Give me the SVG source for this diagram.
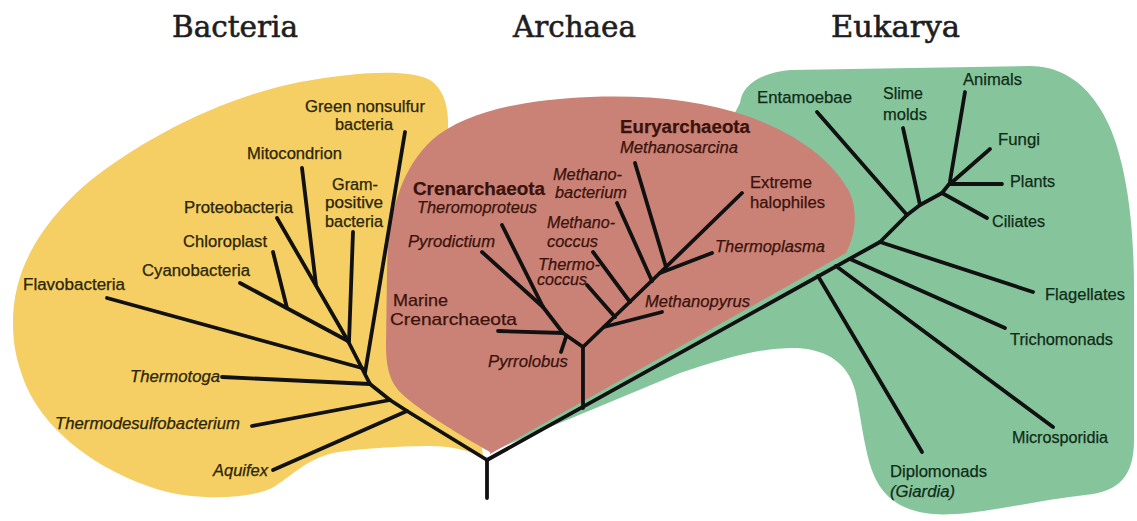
<svg xmlns="http://www.w3.org/2000/svg" width="1137" height="521" viewBox="0 0 1137 521">
<style>
.t{font-family:"DejaVu Serif","Liberation Serif",serif;font-size:30px;fill:#1e1e1e;stroke:#1e1e1e;stroke-width:0.6}
.l{font-family:"Liberation Sans",Arial,sans-serif;font-size:16px;stroke-width:0.25}
.i{font-style:italic}
.b{font-weight:bold;font-size:18px}
.m{font-size:16.5px}
.bac{fill:#2a2408;stroke:#2a2408}
.arc{fill:#3a120c;stroke:#3a120c}
.euk{fill:#0f2c18;stroke:#0f2c18}
.ln{fill:none;stroke:#111;stroke-width:3.8;stroke-linecap:round;stroke-linejoin:round}
</style>
<rect width="1137" height="521" fill="#ffffff"/>
<g id="regions">
<path id="bacteria-region" fill="#F5CF63" d="M 13,322 C 13,270 40,225 85,185 C 140,140 220,98 300,82 C 360,71 410,69 430,80 C 448,92 450,118 447,140 L 480,200 L 481,440 L 483,456 C 465,450 450,446 430,446 C 400,446 355,449 333,453 C 305,460 292,476 272,488 C 245,500 195,500 160,490 C 100,472 40,430 22,375 C 15,355 13,340 13,322 Z"/>
<path id="eukarya-region" fill="#86C59C" d="M 740,103 C 742,85 760,73 790,70 L 1030,66 C 1080,66 1110,110 1122,165 C 1130,200 1134,240 1134,290 L 1134,440 C 1134,475 1120,492 1085,495 C 1040,500 990,512 955,514 C 915,517 885,505 873,473 C 864,450 860,410 855,390 C 848,365 830,350 797,348 C 760,347 720,360 680,373 L 490,452 L 700,180 Z"/>
<path id="archaea-region" fill="#CB8276" d="M 490,452 C 455,432 415,408 398,390 C 388,378 386,362 386,345 L 387,270 C 388,215 400,170 432,140 C 465,112 520,100 590,97 C 650,95 700,100 750,117 C 800,135 835,163 850,193 C 857,210 857,232 846,253 L 490,454 Z"/>
</g>
<g id="titles">
<text class="t" x="172" y="37" textLength="126" lengthAdjust="spacingAndGlyphs">Bacteria</text>
<text class="t" x="513" y="37" textLength="123" lengthAdjust="spacingAndGlyphs">Archaea</text>
<text class="t" x="831" y="37" textLength="129" lengthAdjust="spacingAndGlyphs">Eukarya</text>
</g>
<g id="connectors" class="ln">
<path d="M 487,498 L 487,460"/>
<path d="M 487,460 L 407,411 L 390,400 L 370,384 L 348,341"/>
<path d="M 407,411 L 273,470"/>
<path d="M 390,400 L 252,426"/>
<path d="M 370,384 L 222,377"/>
<path d="M 362,368 L 107,298"/>
<path d="M 365,373 L 405,132"/>
<path d="M 349,342 L 353,232"/>
<path d="M 348,341 L 277,218"/>
<path d="M 316,285 L 302,168"/>
<path d="M 348,341 L 240,283"/>
<path d="M 287,308 L 273,252"/>
<path d="M 487,460 L 880,242 L 907,215 L 920,205 L 942,193 L 950,183"/>
<path d="M 583,408 L 583,347 L 666,267"/>
<path d="M 583,347 L 563,333 L 543,307"/>
<path d="M 543,307 L 482,252"/>
<path d="M 543,307 L 502,225"/>
<path d="M 498,331 L 563,333"/>
<path d="M 566,337 L 561,352"/>
<path d="M 604,327 L 662,312"/>
<path d="M 615,317 L 587,285"/>
<path d="M 630,302 L 593,252"/>
<path d="M 652,281 L 617,203"/>
<path d="M 666,267 L 635,163"/>
<path d="M 666,267 L 742,193"/>
<path d="M 660,273 L 712,253"/>
<path d="M 818,276 L 922,452"/>
<path d="M 836,266 L 1053,427"/>
<path d="M 850,259 L 1005,328"/>
<path d="M 880,242 L 1033,292"/>
<path d="M 907,215 L 817,112"/>
<path d="M 920,205 L 903,128"/>
<path d="M 942,193 L 987,218"/>
<path d="M 950,184 L 1002,184"/>
<path d="M 950,184 L 990,149"/>
<path d="M 950,181 L 965,92"/>
</g>
<g id="bacteria-labels" class="l bac">
<g id="green-nonsulfur"><text x="305" y="112" textLength="120" lengthAdjust="spacingAndGlyphs">Green nonsulfur</text><text x="335" y="130" textLength="58" lengthAdjust="spacingAndGlyphs">bacteria</text></g>
<g id="mitocondrion"><text x="247" y="159" textLength="95" lengthAdjust="spacingAndGlyphs">Mitocondrion</text></g>
<g id="gram-positive"><text x="332" y="190" textLength="46" lengthAdjust="spacingAndGlyphs">Gram-</text><text x="325" y="208" textLength="58" lengthAdjust="spacingAndGlyphs">positive</text><text x="325" y="227" textLength="58" lengthAdjust="spacingAndGlyphs">bacteria</text></g>
<g id="proteobacteria"><text x="184" y="213" textLength="109" lengthAdjust="spacingAndGlyphs">Proteobacteria</text></g>
<g id="chloroplast"><text x="183" y="247" textLength="84" lengthAdjust="spacingAndGlyphs">Chloroplast</text></g>
<g id="cyanobacteria"><text x="142" y="276" textLength="108" lengthAdjust="spacingAndGlyphs">Cyanobacteria</text></g>
<g id="flavobacteria"><text x="23" y="290" textLength="102" lengthAdjust="spacingAndGlyphs">Flavobacteria</text></g>
<g id="thermotoga"><text class="i" x="130" y="382" textLength="90" lengthAdjust="spacingAndGlyphs">Thermotoga</text></g>
<g id="thermodesulfobacterium"><text class="i" x="55" y="429" textLength="185" lengthAdjust="spacingAndGlyphs">Thermodesulfobacterium</text></g>
<g id="aquifex"><text class="i" x="213" y="476" textLength="55" lengthAdjust="spacingAndGlyphs">Aquifex</text></g>
</g>
<g id="archaea-labels" class="l arc">
<g id="euryarchaeota"><text class="b" x="620" y="133" textLength="130" lengthAdjust="spacingAndGlyphs">Euryarchaeota</text><text class="i" x="620" y="153" textLength="118" lengthAdjust="spacingAndGlyphs">Methanosarcina</text></g>
<g id="crenarchaeota"><text class="b" x="413" y="195" textLength="132" lengthAdjust="spacingAndGlyphs">Crenarchaeota</text><text class="i" x="417" y="213" textLength="120" lengthAdjust="spacingAndGlyphs">Theromoproteus</text></g>
<g id="methanobacterium"><text class="i" x="553" y="180" textLength="69" lengthAdjust="spacingAndGlyphs">Methano-</text><text class="i" x="555" y="198" textLength="72" lengthAdjust="spacingAndGlyphs">bacterium</text></g>
<g id="extreme-halophiles"><text x="750" y="188" textLength="62" lengthAdjust="spacingAndGlyphs">Extreme</text><text x="750" y="208" textLength="75" lengthAdjust="spacingAndGlyphs">halophiles</text></g>
<g id="pyrodictium"><text class="i" x="408" y="247" textLength="87" lengthAdjust="spacingAndGlyphs">Pyrodictium</text></g>
<g id="methanococcus"><text class="i" x="547" y="228" textLength="68" lengthAdjust="spacingAndGlyphs">Methano-</text><text class="i" x="547" y="247" textLength="51" lengthAdjust="spacingAndGlyphs">coccus</text></g>
<g id="thermoplasma"><text class="i" x="715" y="252" textLength="110" lengthAdjust="spacingAndGlyphs">Thermoplasma</text></g>
<g id="thermococcus"><text class="i" x="538" y="270" textLength="62" lengthAdjust="spacingAndGlyphs">Thermo-</text><text class="i" x="537" y="285" textLength="50" lengthAdjust="spacingAndGlyphs">coccus</text></g>
<g id="methanopyrus"><text class="i" x="645" y="307" textLength="105" lengthAdjust="spacingAndGlyphs">Methanopyrus</text></g>
<g id="marine-crenarchaeota"><text class="m" x="393" y="306" textLength="55" lengthAdjust="spacingAndGlyphs">Marine</text><text class="m" x="390" y="325" textLength="127" lengthAdjust="spacingAndGlyphs">Crenarchaeota</text></g>
<g id="pyrrolobus"><text class="i" x="488" y="367" textLength="80" lengthAdjust="spacingAndGlyphs">Pyrrolobus</text></g>
</g>
<g id="eukarya-labels" class="l euk">
<g id="entamoebae"><text x="757" y="103" textLength="95" lengthAdjust="spacingAndGlyphs">Entamoebae</text></g>
<g id="slime-molds"><text x="883" y="99" textLength="40" lengthAdjust="spacingAndGlyphs">Slime</text><text x="883" y="120" textLength="44" lengthAdjust="spacingAndGlyphs">molds</text></g>
<g id="animals"><text x="963" y="85" textLength="59" lengthAdjust="spacingAndGlyphs">Animals</text></g>
<g id="fungi"><text x="998" y="145" textLength="42" lengthAdjust="spacingAndGlyphs">Fungi</text></g>
<g id="plants"><text x="1010" y="187" textLength="45" lengthAdjust="spacingAndGlyphs">Plants</text></g>
<g id="ciliates"><text x="992" y="227" textLength="53" lengthAdjust="spacingAndGlyphs">Ciliates</text></g>
<g id="flagellates"><text x="1045" y="300" textLength="80" lengthAdjust="spacingAndGlyphs">Flagellates</text></g>
<g id="trichomonads"><text x="1010" y="345" textLength="103" lengthAdjust="spacingAndGlyphs">Trichomonads</text></g>
<g id="microsporidia"><text x="1012" y="443" textLength="96" lengthAdjust="spacingAndGlyphs">Microsporidia</text></g>
<g id="diplomonads"><text x="890" y="477" textLength="97" lengthAdjust="spacingAndGlyphs">Diplomonads</text><text class="i" x="890" y="497" textLength="65" lengthAdjust="spacingAndGlyphs">(Giardia)</text></g>
</g>
</svg>
